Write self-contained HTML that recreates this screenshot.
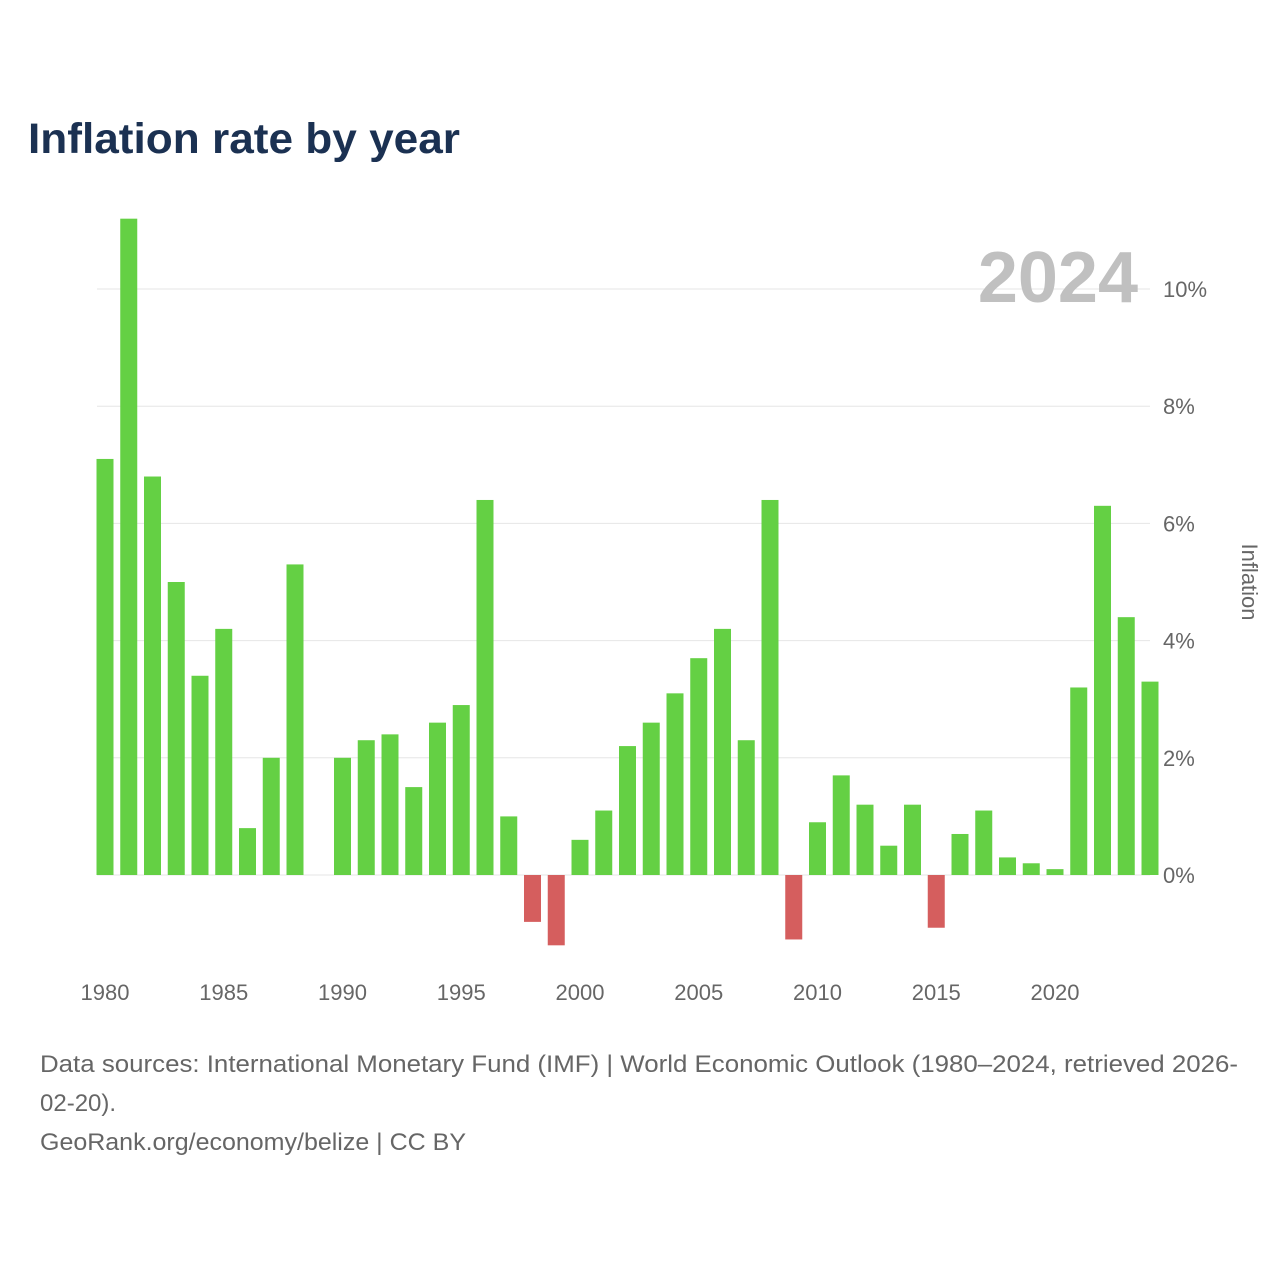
<!DOCTYPE html>
<html><head><meta charset="utf-8"><style>
body{margin:0;width:1280px;height:1280px;background:#fff;font-family:"Liberation Sans",sans-serif;overflow:hidden}
</style></head><body>
<svg width="1280" height="1280">
<text x="28" y="153" font-size="43" font-weight="bold" fill="#1b3152" textLength="432" lengthAdjust="spacingAndGlyphs">Inflation rate by year</text>
<g id="grid"></g>
<text x="1138" y="302" text-anchor="end" font-size="72" font-weight="bold" fill="#c0c0c0">2024</text>
<g id="bars"></g>
<g id="xt"></g>
<g id="yt"></g>
<text transform="translate(1242,582) rotate(90)" text-anchor="middle" font-size="22" fill="#666">Inflation</text>
<text x="40" y="1072" font-size="24" fill="#666" textLength="1198" lengthAdjust="spacingAndGlyphs">Data sources: International Monetary Fund (IMF) | World Economic Outlook (1980–2024, retrieved 2026-</text>
<text x="40" y="1111" font-size="24" fill="#666">02-20).</text>
<text x="40" y="1150" font-size="24" fill="#666" textLength="426" lengthAdjust="spacingAndGlyphs">GeoRank.org/economy/belize | CC BY</text>
</svg>
<script>
const years=[];for(let y=1980;y<=2024;y++)years.push(y);
const values=[7.1,11.2,6.8,5.0,3.4,4.2,0.8,2.0,5.3,null,2.0,2.3,2.4,1.5,2.6,2.9,6.4,1.0,-0.8,-1.2,0.6,1.1,2.2,2.6,3.1,3.7,4.2,2.3,6.4,-1.1,0.9,1.7,1.2,0.5,1.2,-0.9,0.7,1.1,0.3,0.2,0.1,3.2,6.3,4.4,3.3];
const yTicks=[0,2,4,6,8,10];
const xTicks=[1980,1985,1990,1995,2000,2005,2010,2015,2020];
const NS="http://www.w3.org/2000/svg";
const yS=v=>875-v*58.6;
const xS=y=>105+(y-1980)*23.75;
function mk(t,a,p){const e=document.createElementNS(NS,t);for(const k in a)e.setAttribute(k,a[k]);document.getElementById(p).appendChild(e);return e;}
yTicks.forEach(t=>{
 const l=mk('line',{x1:97,x2:1150,y1:yS(t),y2:yS(t),stroke:'#e6e6e6','stroke-width':1},'grid');
 
 
 const tx=mk('text',{x:1163,y:yS(t)+8,'font-size':22,fill:'#666'},'yt');tx.textContent=t+'%';
 
 
});
xTicks.forEach(t=>{
 const tx=mk('text',{x:xS(t),y:1000,'font-size':22,fill:'#666','text-anchor':'middle'},'xt');tx.textContent=t;
 
 
});
years.forEach((y,i)=>{
 const v=values[i];if(v==null)return;
 const top=Math.min(yS(v),yS(0)),h=Math.abs(yS(v)-yS(0));
 const r=mk('rect',{x:xS(y)-8.5,y:top,width:17,height:h,fill:v>=0?'#64d044':'#d55e5e'},'bars');
 
 
});
</script>
</body></html>
